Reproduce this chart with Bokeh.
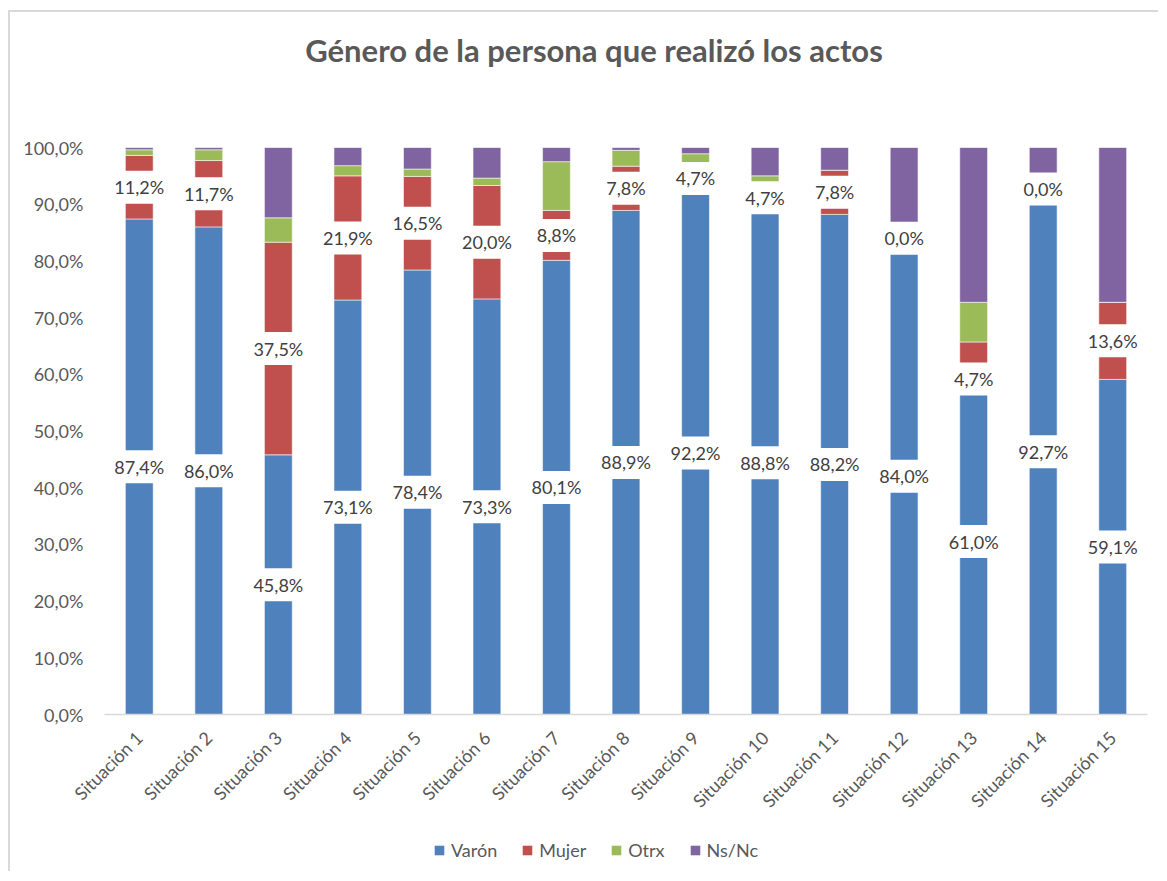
import math
from bokeh.plotting import figure
from bokeh.layouts import column
from bokeh.models import ColumnDataSource, FactorRange, FixedTicker, Legend, LegendItem, Range1d
from bokeh.core.properties import value
from bokeh.embed import file_html
from bokeh.resources import INLINE

title_text = "Género de la persona que realizó los actos"
categories = [f"Situación {i}" for i in range(1, 16)]
series = ["Varón", "Mujer", "Otrx", "Ns/Nc"]
varon = [87.4, 86.0, 45.8, 73.1, 78.4, 73.3, 80.1, 88.9, 92.2, 88.8, 88.2, 84.0, 61.0, 92.7, 59.1]
mujer = [11.2, 11.7, 37.5, 21.9, 16.5, 20.0, 8.8, 7.8, 4.7, 4.7, 7.8, 0.0, 4.7, 0.0, 13.6]
otrx = [1.0, 1.9, 4.3, 1.8, 1.3, 1.3, 8.6, 2.8, 2.0, 1.5, 0.0, 0.0, 7.0, 0.0, 0.0]
nsnc = [0.4, 0.4, 12.4, 3.2, 3.8, 5.4, 2.5, 0.5, 1.1, 5.0, 4.0, 16.0, 27.3, 7.3, 27.3]
y_ticks = [0, 10, 20, 30, 40, 50, 60, 70, 80, 90, 100]

colors = ["#4F81BD", "#C0504D", "#9BBB59", "#8064A2"]
label_nudge = {("Situación 13", "Mujer"): -4.2}
FONT = "Lato"


def pct(v):
    return f"{v:.1f}".replace(".", ",") + "%"


src = ColumnDataSource(dict(sit=categories, varon=varon, mujer=mujer, otrx=otrx, nsnc=nsnc))

lx, ly, lt = [], [], []
for c, v in zip(categories, varon):
    lx.append(c)
    ly.append(v / 2 + label_nudge.get((c, "Varón"), 0))
    lt.append(pct(v))
for c, v, m in zip(categories, varon, mujer):
    lx.append(c)
    ly.append(v + m / 2 + label_nudge.get((c, "Mujer"), 0))
    lt.append(pct(m))
lab = ColumnDataSource(dict(x=lx, y=ly, text=lt))

W = 1148
FRAME_W = 1043
MB_LEFT, MB_RIGHT = 94, 11
H_TOP, H_MAIN, H_LEG = 80, 739, 40

# ---- title strip (frame aligned with main chart frame) ----
p0 = figure(width=W, height=H_TOP, x_range=Range1d(0, FRAME_W), y_range=Range1d(0, H_TOP),
            x_axis_location=None, y_axis_location=None, min_border=0,
            min_border_left=MB_LEFT, min_border_right=MB_RIGHT,
            output_backend="svg", toolbar_location=None)
p0.grid.visible = False
p0.outline_line_color = None
p0.text(x=[489.5], y=[43], text=[title_text], text_align="center", text_baseline="middle",
        text_font=value(FONT), text_font_size="31px", text_font_style="bold", text_color="#595959")

# ---- main chart ----
p = figure(
    x_range=FactorRange(*categories, range_padding=0),
    y_range=Range1d(0, 100),
    width=W, height=H_MAIN,
    output_backend="svg", toolbar_location=None,
    min_border_left=MB_LEFT, min_border_right=MB_RIGHT, min_border_top=55, min_border_bottom=117,
    background_fill_color="white", border_fill_color="white",
)

renderers = p.vbar_stack(["varon", "mujer", "otrx", "nsnc"], x="sit", width=0.4, color=colors,
                         line_color="white", line_alpha=0.55, line_width=1, source=src)

p.rect(x="x", y="y", width=0.5, height=33, height_units="screen", source=lab,
       fill_color="white", line_color=None)
p.text(x="x", y="y", text="text", source=lab, text_align="center", text_baseline="middle",
       text_font=value(FONT), text_font_size="18px", text_color="#404040")

p.xgrid.grid_line_color = None
p.ygrid.grid_line_color = None
p.outline_line_color = None

p.xaxis.axis_line_color = "#D9D9D9"
p.xaxis.axis_line_width = 1.5
p.xaxis.major_tick_line_color = None
p.xaxis.minor_tick_line_color = None
p.xaxis.major_label_orientation = math.pi / 4
p.xaxis.major_label_standoff = 14
p.xaxis.major_label_text_font = FONT
p.xaxis.major_label_text_font_size = "18px"
p.xaxis.major_label_text_color = "#595959"

p.yaxis.axis_line_color = None
p.yaxis.major_tick_line_color = None
p.yaxis.minor_tick_line_color = None
p.yaxis.ticker = FixedTicker(ticks=y_ticks)
p.yaxis.major_label_overrides = {t: pct(t) for t in y_ticks}
p.yaxis.major_label_standoff = 15
p.yaxis.major_label_text_font = FONT
p.yaxis.major_label_text_font_size = "18px"
p.yaxis.major_label_text_color = "#595959"

# ---- legend strip ----
p2 = figure(width=W, height=H_LEG, x_range=Range1d(0, 1), y_range=Range1d(0, 1),
            x_axis_location=None, y_axis_location=None, min_border=0,
            min_border_left=MB_LEFT, min_border_right=MB_RIGHT,
            output_backend="svg", toolbar_location=None)
p2.grid.visible = False
p2.outline_line_color = None
dummies = [p2.vbar(x=[-5], top=[-5], bottom=[-6], width=0.1, fill_color=c, line_color=None)
           for c in colors]
legend = Legend(
    items=[LegendItem(label=s, renderers=[r]) for s, r in zip(series, dummies)],
    orientation="horizontal", location=(329, 10),
    glyph_width=12, glyph_height=12, label_standoff=6, spacing=24,
    padding=0, margin=0, border_line_color=None, background_fill_alpha=0,
    label_text_font=FONT, label_text_font_size="18px", label_text_color="#595959",
)
p2.add_layout(legend, "center")

layout = column(p0, p, p2, spacing=0)
layout.styles = {"border-top": "2px solid #D9D9D9", "border-left": "2px solid #D9D9D9",
                 "margin-left": "8px", "margin-top": "10px"}

open("out.html", "w").write(file_html(layout, INLINE))
